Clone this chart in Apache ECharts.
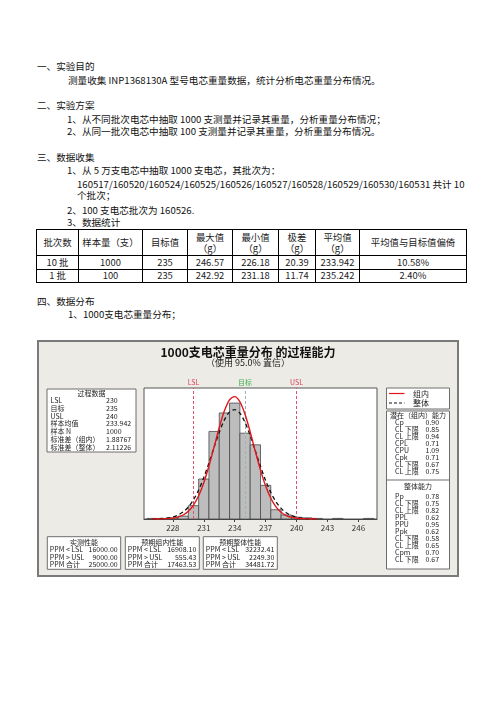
<!DOCTYPE html>
<html>
<head>
<meta charset="utf-8">
<script src="https://cdn.jsdelivr.net/npm/echarts@6/dist/echarts.min.js"></script>
<style>
  body { margin: 0; background: #fff; }
  #page { position: relative; width: 496px; height: 702px; overflow: hidden;
          font-family: "Noto Sans CJK SC", sans-serif; font-size: 9.6px; color: #111; }
  .ln { position: absolute; white-space: nowrap; line-height: 12px; }
  #tbl { position: absolute; left: 36px; top: 229px; width: 430px; border-collapse: collapse;
         font-size: 9.4px; table-layout: fixed; }
  #tbl td { border: 1.4px solid #000; text-align: center; padding: 0; line-height: 11px; color: #222; }
  #chart { position: absolute; left: 37px; top: 340px; width: 422px; height: 237px; }
</style>
</head>
<body>
<div id="page">
  <div class="ln" style="left:37px;top:60px">一、实验目的</div>
  <div class="ln" style="left:68px;top:74px">测量收集 INP1368130A 型号电芯重量数据，统计分析电芯重量分布情况。</div>
  <div class="ln" style="left:37px;top:99px">二、实验方案</div>
  <div class="ln" style="left:67px;top:113px">1、从不同批次电芯中抽取 1000 支测量并记录其重量，分析重量分布情况；</div>
  <div class="ln" style="left:67px;top:125px">2、从同一批次电芯中抽取 100 支测量并记录其重量，分析重量分布情况。</div>
  <div class="ln" style="left:37px;top:151px">三、数据收集</div>
  <div class="ln" style="left:67px;top:164px">1、从 5 万支电芯中抽取 1000 支电芯，其批次为：</div>
  <div class="ln" style="left:77px;top:178px">160517/160520/160524/160525/160526/160527/160528/160529/160530/160531 共计 10</div>
  <div class="ln" style="left:77px;top:189px">个批次；</div>
  <div class="ln" style="left:67px;top:204px">2、100 支电芯批次为 160526.</div>
  <div class="ln" style="left:67px;top:216px">3、数据统计</div>
  <table id="tbl">
    <colgroup>
      <col style="width:42px"><col style="width:64px"><col style="width:45px"><col style="width:45px">
      <col style="width:46px"><col style="width:37px"><col style="width:44px"><col style="width:107px">
    </colgroup>
    <tbody id="tbody"></tbody>
  </table>
  <div class="ln" style="left:37px;top:295px">四、数据分布</div>
  <div class="ln" style="left:68px;top:308px">1、1000支电芯重量分布；</div>
  <div id="chart"></div>
</div>
<script>
// ==================== 数据 ====================

// 统计表
const tableHeader = ['批次数', '样本量（支）', '目标值', '最大值<br>（g）', '最小值<br>（g）', '极差<br>（g）', '平均值<br>（g）', '平均值与目标值偏倚'];
const tableRows = [
    ['10 批', '1000', '235', '246.57', '226.18', '20.39', '233.942', '10.58%'],
    ['1 批', '100', '235', '242.92', '231.18', '11.74', '235.242', '2.40%']
];

// 直方图（组中心 / 频数）
const binCenters = [226, 227, 228, 229, 230, 231, 232, 233, 234, 235, 236, 237, 238, 239, 240, 241, 242, 243, 244, 245, 246, 247];
const binCounts  = [1, 1, 2, 5, 23, 69, 151, 183, 200, 148, 128, 58, 16, 7, 3, 2, 1, 0, 1, 0, 0, 1];

// 拟合曲线
const fitX = [226, 226.5, 227, 227.5, 228, 228.5, 229, 229.5, 230, 230.5, 231, 231.5, 232, 232.5, 233, 233.5,
              234, 234.5, 235, 235.5, 236, 236.5, 237, 237.5, 238, 238.5, 239, 239.5, 240, 240.5, 241, 241.5, 242];
const fitWithin  = [0.03, 0.09, 0.25, 0.63, 1.5, 3.3, 6.9, 13.3, 23.9, 40.1, 62.7, 91.5, 124.5, 157.8, 186.6, 205.6,
                    211.2, 202.3, 180.6, 150.3, 116.6, 84.4, 56.9, 35.8, 21.0, 11.5, 5.8, 2.8, 1.2, 0.5, 0.2, 0.07, 0.02];
const fitOverall = [0.16, 0.38, 0.85, 1.8, 3.6, 6.8, 12.2, 20.7, 33.1, 50.1, 71.6, 96.8, 123.8, 149.6, 171.0, 184.8,
                    188.8, 182.4, 166.6, 143.9, 117.5, 90.7, 66.2, 45.7, 29.8, 18.4, 10.7, 5.9, 3.1, 1.5, 0.7, 0.3, 0.13];

// 规格限
const specNames  = ['LSL', '目标', 'USL'];
const specValues = [230, 235, 240];

// x 轴刻度
const tickValues = [228, 231, 234, 237, 240, 243, 246];

// 文本框
const processLabels = ['LSL', '目标', 'USL', '样本均值', '样本 N', '标准差（组内）', '标准差（整体）'];
const processValues = ['230', '235', '240', '233.942', '1000', '1.88767', '2.11226'];
const withinLabels  = ['Cp', 'CL 下限', 'CL 上限', 'CPL', 'CPU', 'Cpk', 'CL 下限', 'CL 上限'];
const withinValues  = ['0.90', '0.85', '0.94', '0.71', '1.09', '0.71', '0.67', '0.75'];
const overallLabels = ['Pp', 'CL 下限', 'CL 上限', 'PPL', 'PPU', 'Ppk', 'CL 下限', 'CL 上限', 'Cpm', 'CL 下限'];
const overallValues = ['0.78', '0.75', '0.82', '0.62', '0.95', '0.62', '0.58', '0.65', '0.70', '0.67'];
const ppmTitles = ['实测性能', '预期组内性能', '预期整体性能'];
const ppmLabels = ['PPM < LSL', 'PPM > USL', 'PPM 合计'];
const ppmValues = [
    ['16000.00', '9000.00', '25000.00'],
    ['16908.10', '555.43', '17463.53'],
    ['32232.41', '2249.30', '34481.72']
];

// ==================== 表格 ====================

const tbody = document.getElementById('tbody');
let html = '<tr style="height:26px">' + tableHeader.map(h => `<td>${h}</td>`).join('') + '</tr>';
tableRows.forEach(r => {
    html += '<tr style="height:13.5px">' + r.map(c => `<td>${c}</td>`).join('') + '</tr>';
});
tbody.innerHTML = html;

// ==================== 图表 ====================

const FONT = '"Noto Sans CJK SC", sans-serif';
const SMALL = 7;

function txt(x, y, text, opts) {
    return Object.assign({
        type: 'text', x: x, y: y, silent: true,
        style: Object.assign({ text: text, fill: '#222', font: `${SMALL}px ${FONT}`, textVerticalAlign: 'middle' }, opts || {})
    });
}
function box(x, y, w, h) {
    return { type: 'rect', shape: { x: x, y: y, width: w, height: h }, silent: true,
             style: { fill: '#fff', stroke: '#6e6e6e', lineWidth: 1 } };
}

const graphics = [];
// 外框
graphics.push({ type: 'rect', shape: { x: 1, y: 1, width: 420, height: 235 }, silent: true, z: -10,
                style: { fill: '#ecebe6', stroke: '#7a7a7a', lineWidth: 2 } });
// 标题
graphics.push(txt(211, 12, '1000支电芯重量分布 的过程能力',
                  { font: `bold 12px ${FONT}`, fill: '#111', textAlign: 'center' }));
graphics.push(txt(211, 23, '（使用 95.0% 置信）', { font: `9px ${FONT}`, fill: '#222', textAlign: 'center' }));

// 过程数据
graphics.push(box(10, 49, 89, 63));
graphics.push(txt(54.5, 53.5, '过程数据', { textAlign: 'center' }));
processLabels.forEach((l, i) => {
    graphics.push(txt(13.5, 60.7 + i * 7.7, l));
    graphics.push(txt(69, 60.7 + i * 7.7, processValues[i]));
});

// 图例
graphics.push(box(349.5, 48, 63, 21));
graphics.push({ type: 'line', shape: { x1: 352, y1: 53.5, x2: 367.5, y2: 53.5 }, silent: true,
                style: { stroke: '#e0161b', lineWidth: 1.2 } });
graphics.push({ type: 'line', shape: { x1: 352, y1: 63, x2: 367.5, y2: 63 }, silent: true,
                style: { stroke: '#111', lineWidth: 1.2, lineDash: [3, 2] } });
graphics.push(txt(376, 53.5, '组内', { font: `8px ${FONT}` }));
graphics.push(txt(376, 63, '整体', { font: `8px ${FONT}` }));

// 能力
graphics.push(box(349.5, 71, 63, 158));
graphics.push({ type: 'line', shape: { x1: 349.5, y1: 140, x2: 412.5, y2: 140 }, silent: true,
                style: { stroke: '#6e6e6e', lineWidth: 1 } });
graphics.push(txt(381, 75.5, '潜在（组内）能力', { textAlign: 'center' }));
withinLabels.forEach((l, i) => {
    graphics.push(txt(358, 82.4 + i * 7.05, l));
    graphics.push(txt(388.5, 82.4 + i * 7.05, withinValues[i]));
});
graphics.push(txt(381, 146, '整体能力', { textAlign: 'center' }));
overallLabels.forEach((l, i) => {
    graphics.push(txt(358, 156 + i * 7.0, l));
    graphics.push(txt(388.5, 156 + i * 7.0, overallValues[i]));
});

// PPM
[10.3, 88.3, 166.3].forEach((bx, k) => {
    const bw = k === 0 ? 73.4 : 74;
    graphics.push(box(bx, 196.7, bw, 32.6));
    graphics.push(txt(bx + bw / 2, 202.7, ppmTitles[k], { textAlign: 'center' }));
    ppmLabels.forEach((l, i) => {
        graphics.push(txt(bx + 2.5, 209.5 + i * 7.5, l));
        graphics.push(txt(bx + bw - 3, 209.5 + i * 7.5, ppmValues[k][i], { textAlign: 'right' }));
    });
});

const specColors = ['#d9435a', '#3fae4a', '#d9435a'];
const specLineColors = ['#d9546c', '#9ab5b5', '#d9546c'];

const chart = echarts.init(document.getElementById('chart'));
chart.setOption({
    animation: false,
    backgroundColor: 'transparent',
    grid: { left: 107, top: 48, width: 233, height: 131, show: true,
            backgroundColor: '#fff', borderColor: '#555', borderWidth: 1 },
    xAxis: {
        type: 'value', min: 225.2, max: 247.8,
        axisLine: { show: true, lineStyle: { color: '#444', width: 1 } },
        axisTick: { show: true, length: 3, customValues: tickValues, lineStyle: { color: '#444' } },
        axisLabel: { customValues: tickValues, fontSize: 8, color: '#333', margin: 5, fontFamily: FONT },
        splitLine: { show: false }
    },
    yAxis: { type: 'value', min: 0, max: 226, show: false, splitLine: { show: false } },
    graphic: { elements: graphics },
    series: [
        {
            type: 'custom',
            data: binCenters.map((c, i) => [c, binCounts[i]]),
            renderItem: function (params, api) {
                const x = api.value(0), y = api.value(1);
                if (!y) return null;
                const p0 = api.coord([x - 0.5, y]);
                const p1 = api.coord([x + 0.5, 0]);
                return {
                    type: 'rect',
                    shape: { x: p0[0], y: p0[1], width: p1[0] - p0[0], height: p1[1] - p0[1] },
                    style: { fill: '#bdbdbd', stroke: '#4a4a4a', lineWidth: 0.8 }
                };
            },
            z: 2
        },
        {
            type: 'line', name: '整体',
            data: fitX.map((x, i) => [x, fitOverall[i]]),
            smooth: 0.3, showSymbol: false, z: 4,
            lineStyle: { color: '#111', width: 1.3, type: [4, 3] }
        },
        {
            type: 'line', name: '组内',
            data: fitX.map((x, i) => [x, fitWithin[i]]),
            smooth: 0.3, showSymbol: false, z: 5,
            lineStyle: { color: '#e0161b', width: 1.4 },
            markLine: {
                silent: true, symbol: ['none', 'none'],
                data: specValues.map((v, i) => ({
                    name: specNames[i], xAxis: v,
                    lineStyle: { color: specLineColors[i], type: [3, 2], width: 1 },
                    label: { show: true, position: 'end', formatter: specNames[i], color: specColors[i],
                             fontSize: 7, fontFamily: FONT, distance: 2 }
                }))
            }
        }
    ]
});
</script>
</body>
</html>
